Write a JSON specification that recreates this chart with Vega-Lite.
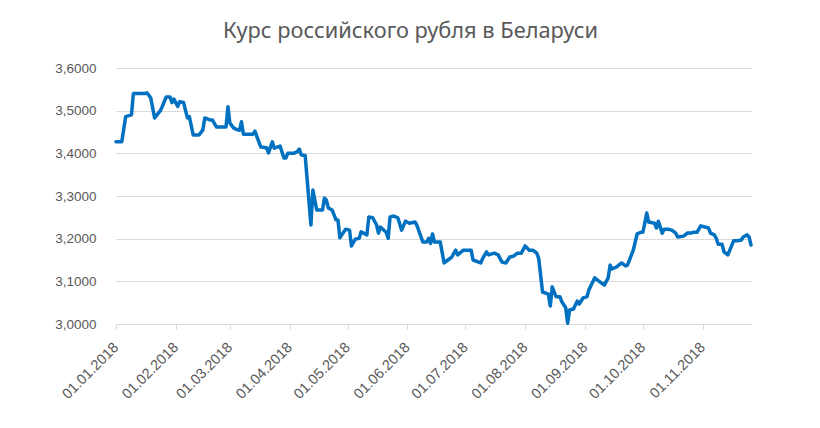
{
  "$schema": "https://vega.github.io/schema/vega-lite/v6.json",
  "autosize": {"type": "none"},
  "padding": {"left": 116, "top": 68, "right": 69, "bottom": 104},
  "width": 635,
  "height": 256,
  "background": "white",
  "title": {
    "text": "Курс российского рубля в Беларуси",
    "anchor": "middle",
    "dx": -23,
    "offset": 1,
    "baseline": "alphabetic",
    "font": "Noto Sans",
    "fontSize": 21.8,
    "fontWeight": "normal",
    "color": "#595959"
  },
  "config": {
    "view": {"stroke": null},
    "axis": {
      "labelFont": "Liberation Sans",
      "labelFontSize": 13.5,
      "labelColor": "#595959",
      "domainColor": "#d9d9d9",
      "tickColor": "#d9d9d9",
      "gridColor": "#d9d9d9",
      "title": null
    }
  },
  "data": {
    "values": [
      {"date": "2018-01-01", "rate": 3.427},
      {"date": "2018-01-04", "rate": 3.427},
      {"date": "2018-01-06", "rate": 3.486},
      {"date": "2018-01-09", "rate": 3.49},
      {"date": "2018-01-10", "rate": 3.54},
      {"date": "2018-01-16", "rate": 3.54},
      {"date": "2018-01-17", "rate": 3.542},
      {"date": "2018-01-19", "rate": 3.53},
      {"date": "2018-01-21", "rate": 3.483},
      {"date": "2018-01-24", "rate": 3.5},
      {"date": "2018-01-25", "rate": 3.51},
      {"date": "2018-01-27", "rate": 3.532},
      {"date": "2018-01-29", "rate": 3.532},
      {"date": "2018-01-30", "rate": 3.519},
      {"date": "2018-01-31", "rate": 3.527},
      {"date": "2018-02-02", "rate": 3.51},
      {"date": "2018-02-03", "rate": 3.521},
      {"date": "2018-02-05", "rate": 3.519},
      {"date": "2018-02-07", "rate": 3.483},
      {"date": "2018-02-08", "rate": 3.486},
      {"date": "2018-02-10", "rate": 3.443},
      {"date": "2018-02-13", "rate": 3.443},
      {"date": "2018-02-15", "rate": 3.455},
      {"date": "2018-02-16", "rate": 3.483},
      {"date": "2018-02-19", "rate": 3.478},
      {"date": "2018-02-20", "rate": 3.478},
      {"date": "2018-02-22", "rate": 3.462},
      {"date": "2018-02-27", "rate": 3.462},
      {"date": "2018-02-28", "rate": 3.509},
      {"date": "2018-03-01", "rate": 3.471},
      {"date": "2018-03-03", "rate": 3.459},
      {"date": "2018-03-05", "rate": 3.455},
      {"date": "2018-03-06", "rate": 3.454},
      {"date": "2018-03-07", "rate": 3.474},
      {"date": "2018-03-08", "rate": 3.445},
      {"date": "2018-03-13", "rate": 3.445},
      {"date": "2018-03-14", "rate": 3.452},
      {"date": "2018-03-15", "rate": 3.439},
      {"date": "2018-03-17", "rate": 3.415},
      {"date": "2018-03-20", "rate": 3.413},
      {"date": "2018-03-21", "rate": 3.401},
      {"date": "2018-03-23", "rate": 3.427},
      {"date": "2018-03-24", "rate": 3.412},
      {"date": "2018-03-27", "rate": 3.417},
      {"date": "2018-03-29", "rate": 3.389},
      {"date": "2018-03-30", "rate": 3.389},
      {"date": "2018-03-31", "rate": 3.4},
      {"date": "2018-04-03", "rate": 3.4},
      {"date": "2018-04-05", "rate": 3.404},
      {"date": "2018-04-06", "rate": 3.41},
      {"date": "2018-04-07", "rate": 3.396},
      {"date": "2018-04-09", "rate": 3.395},
      {"date": "2018-04-12", "rate": 3.232},
      {"date": "2018-04-13", "rate": 3.314},
      {"date": "2018-04-15", "rate": 3.267},
      {"date": "2018-04-18", "rate": 3.267},
      {"date": "2018-04-19", "rate": 3.295},
      {"date": "2018-04-20", "rate": 3.29},
      {"date": "2018-04-21", "rate": 3.272},
      {"date": "2018-04-23", "rate": 3.267},
      {"date": "2018-04-25", "rate": 3.244},
      {"date": "2018-04-26", "rate": 3.244},
      {"date": "2018-04-27", "rate": 3.202},
      {"date": "2018-04-28", "rate": 3.209},
      {"date": "2018-04-30", "rate": 3.222},
      {"date": "2018-05-02", "rate": 3.22},
      {"date": "2018-05-03", "rate": 3.183},
      {"date": "2018-05-05", "rate": 3.199},
      {"date": "2018-05-07", "rate": 3.201},
      {"date": "2018-05-08", "rate": 3.216},
      {"date": "2018-05-11", "rate": 3.209},
      {"date": "2018-05-12", "rate": 3.251},
      {"date": "2018-05-14", "rate": 3.249},
      {"date": "2018-05-16", "rate": 3.232},
      {"date": "2018-05-17", "rate": 3.213},
      {"date": "2018-05-18", "rate": 3.227},
      {"date": "2018-05-21", "rate": 3.215},
      {"date": "2018-05-22", "rate": 3.201},
      {"date": "2018-05-23", "rate": 3.251},
      {"date": "2018-05-25", "rate": 3.253},
      {"date": "2018-05-27", "rate": 3.249},
      {"date": "2018-05-29", "rate": 3.22},
      {"date": "2018-05-31", "rate": 3.241},
      {"date": "2018-06-02", "rate": 3.236},
      {"date": "2018-06-05", "rate": 3.239},
      {"date": "2018-06-06", "rate": 3.23},
      {"date": "2018-06-09", "rate": 3.192},
      {"date": "2018-06-11", "rate": 3.192},
      {"date": "2018-06-12", "rate": 3.201},
      {"date": "2018-06-13", "rate": 3.189},
      {"date": "2018-06-14", "rate": 3.211},
      {"date": "2018-06-15", "rate": 3.192},
      {"date": "2018-06-18", "rate": 3.192},
      {"date": "2018-06-20", "rate": 3.143},
      {"date": "2018-06-22", "rate": 3.15},
      {"date": "2018-06-24", "rate": 3.157},
      {"date": "2018-06-26", "rate": 3.173},
      {"date": "2018-06-27", "rate": 3.162},
      {"date": "2018-06-30", "rate": 3.173},
      {"date": "2018-07-04", "rate": 3.173},
      {"date": "2018-07-05", "rate": 3.15},
      {"date": "2018-07-09", "rate": 3.143},
      {"date": "2018-07-10", "rate": 3.154},
      {"date": "2018-07-12", "rate": 3.169},
      {"date": "2018-07-13", "rate": 3.162},
      {"date": "2018-07-16", "rate": 3.166},
      {"date": "2018-07-18", "rate": 3.162},
      {"date": "2018-07-20", "rate": 3.145},
      {"date": "2018-07-22", "rate": 3.143},
      {"date": "2018-07-24", "rate": 3.157},
      {"date": "2018-07-26", "rate": 3.159},
      {"date": "2018-07-28", "rate": 3.166},
      {"date": "2018-07-30", "rate": 3.166},
      {"date": "2018-08-01", "rate": 3.183},
      {"date": "2018-08-03", "rate": 3.173},
      {"date": "2018-08-05", "rate": 3.173},
      {"date": "2018-08-07", "rate": 3.166},
      {"date": "2018-08-08", "rate": 3.154},
      {"date": "2018-08-10", "rate": 3.075},
      {"date": "2018-08-13", "rate": 3.07},
      {"date": "2018-08-14", "rate": 3.042},
      {"date": "2018-08-15", "rate": 3.087},
      {"date": "2018-08-17", "rate": 3.064},
      {"date": "2018-08-19", "rate": 3.064},
      {"date": "2018-08-20", "rate": 3.052},
      {"date": "2018-08-22", "rate": 3.038},
      {"date": "2018-08-23", "rate": 3.002},
      {"date": "2018-08-24", "rate": 3.033},
      {"date": "2018-08-26", "rate": 3.035},
      {"date": "2018-08-28", "rate": 3.054},
      {"date": "2018-08-29", "rate": 3.047},
      {"date": "2018-08-31", "rate": 3.061},
      {"date": "2018-09-02", "rate": 3.064},
      {"date": "2018-09-03", "rate": 3.08},
      {"date": "2018-09-06", "rate": 3.108},
      {"date": "2018-09-08", "rate": 3.101},
      {"date": "2018-09-11", "rate": 3.091},
      {"date": "2018-09-13", "rate": 3.108},
      {"date": "2018-09-14", "rate": 3.138},
      {"date": "2018-09-15", "rate": 3.129},
      {"date": "2018-09-17", "rate": 3.133},
      {"date": "2018-09-18", "rate": 3.136},
      {"date": "2018-09-20", "rate": 3.143},
      {"date": "2018-09-22", "rate": 3.136},
      {"date": "2018-09-23", "rate": 3.138},
      {"date": "2018-09-26", "rate": 3.173},
      {"date": "2018-09-28", "rate": 3.211},
      {"date": "2018-09-30", "rate": 3.215},
      {"date": "2018-10-01", "rate": 3.215},
      {"date": "2018-10-03", "rate": 3.26},
      {"date": "2018-10-04", "rate": 3.239},
      {"date": "2018-10-07", "rate": 3.236},
      {"date": "2018-10-08", "rate": 3.225},
      {"date": "2018-10-09", "rate": 3.241},
      {"date": "2018-10-11", "rate": 3.213},
      {"date": "2018-10-12", "rate": 3.222},
      {"date": "2018-10-14", "rate": 3.222},
      {"date": "2018-10-16", "rate": 3.22},
      {"date": "2018-10-18", "rate": 3.213},
      {"date": "2018-10-19", "rate": 3.204},
      {"date": "2018-10-22", "rate": 3.206},
      {"date": "2018-10-23", "rate": 3.209},
      {"date": "2018-10-24", "rate": 3.213},
      {"date": "2018-10-26", "rate": 3.213},
      {"date": "2018-10-27", "rate": 3.215},
      {"date": "2018-10-29", "rate": 3.215},
      {"date": "2018-10-31", "rate": 3.23},
      {"date": "2018-11-04", "rate": 3.225},
      {"date": "2018-11-05", "rate": 3.213},
      {"date": "2018-11-07", "rate": 3.209},
      {"date": "2018-11-08", "rate": 3.201},
      {"date": "2018-11-09", "rate": 3.187},
      {"date": "2018-11-11", "rate": 3.187},
      {"date": "2018-11-12", "rate": 3.169},
      {"date": "2018-11-14", "rate": 3.162},
      {"date": "2018-11-17", "rate": 3.195},
      {"date": "2018-11-19", "rate": 3.195},
      {"date": "2018-11-21", "rate": 3.197},
      {"date": "2018-11-22", "rate": 3.204},
      {"date": "2018-11-24", "rate": 3.209},
      {"date": "2018-11-25", "rate": 3.204},
      {"date": "2018-11-26", "rate": 3.185}
    ]
  },
  "mark": {
    "type": "line",
    "color": "#0070c0",
    "strokeWidth": 3.5,
    "strokeJoin": "round",
    "strokeCap": "round"
  },
  "encoding": {
    "x": {
      "field": "date",
      "type": "temporal",
      "scale": {
        "type": "utc",
        "domain": [
          {"year": 2018, "month": 1, "date": 1, "utc": true},
          {"year": 2018, "month": 11, "date": 26, "utc": true}
        ]
      },
      "axis": {
        "format": "%d.%m.%Y",
        "tickCount": {"interval": "month", "step": 1},
        "grid": false,
        "ticks": true,
        "tickSize": 5,
        "labelAngle": -45,
        "labelAlign": "right",
        "labelBaseline": "middle",
        "labelPadding": 16,
        "labelFontSize": 14.5,
        "labelFlush": false,
        "labelOverlap": false
      }
    },
    "y": {
      "field": "rate",
      "type": "quantitative",
      "scale": {"domain": [3.0, 3.6], "nice": false, "zero": false},
      "axis": {
        "values": [3.0, 3.1, 3.2, 3.3, 3.4, 3.5, 3.6],
        "labelExpr": "replace(format(datum.value, '.4f'), '.', ',')",
        "domain": false,
        "ticks": false,
        "grid": true,
        "labelPadding": 20
      }
    }
  }
}
